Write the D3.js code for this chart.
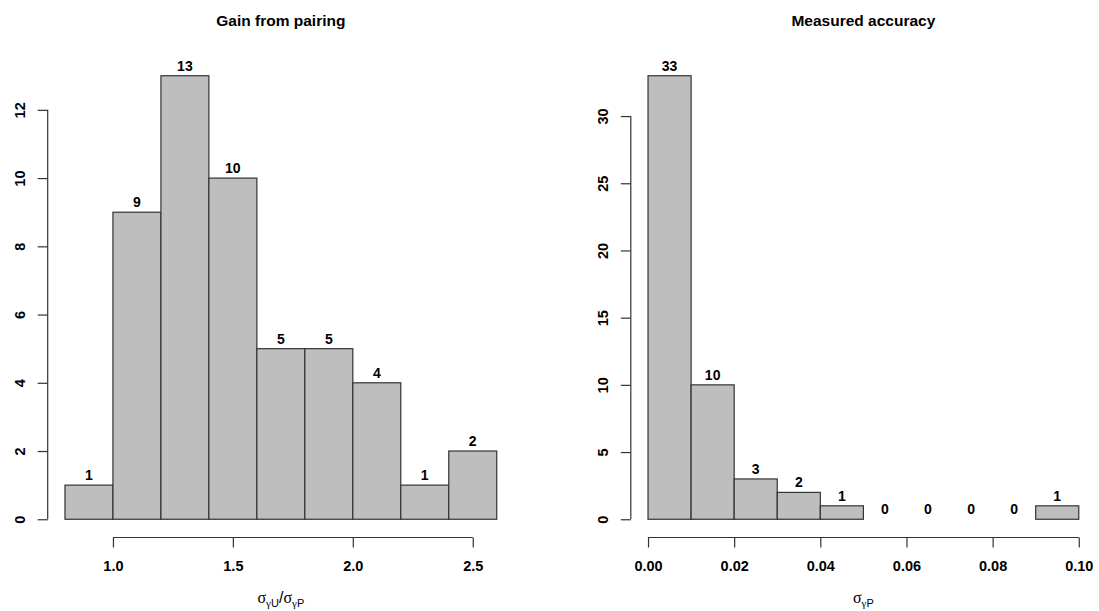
<!DOCTYPE html>
<html>
<head>
<meta charset="utf-8">
<script src="https://cdn.jsdelivr.net/npm/d3@7"></script>
<style>
  body { margin: 0; background: #fff; }
  svg { font-family: "Liberation Sans", Arial, sans-serif; }
</style>
</head>
<body>
<svg width="1099" height="611"></svg>
<script>
// left histogram: gain from pairing
let breaksL = [0.8, 1.0, 1.2, 1.4, 1.6, 1.8, 2.0, 2.2, 2.4, 2.6];
let countsL = [1, 9, 13, 10, 5, 5, 4, 1, 2];
let xTicksL = [1.0, 1.5, 2.0, 2.5];
let yTicksL = [0, 2, 4, 6, 8, 10, 12];

// right histogram: measured accuracy
let breaksR = [0, 0.01, 0.02, 0.03, 0.04, 0.05, 0.06, 0.07, 0.08, 0.09, 0.10];
let countsR = [33, 10, 3, 2, 1, 0, 0, 0, 0, 1];
let xTicksR = [0, 0.02, 0.04, 0.06, 0.08, 0.10];
let yTicksR = [0, 5, 10, 15, 20, 25, 30];

let svg = d3.select("svg");
let plotTop = 58, plotBottom = 537;
let ink = "#333";
let serif = "Liberation Serif, Times New Roman, serif";

let drawHist = (opt) => {
  let breaks = opt.breaks, counts = opt.counts;
  let xr = breaks[breaks.length - 1] - breaks[0];
  let ymax = d3.max(counts);
  // R style 4% padding
  let xScale = d3.scaleLinear()
    .domain([breaks[0] - 0.04 * xr, breaks[breaks.length - 1] + 0.04 * xr])
    .range([opt.left, opt.right]);
  let yScale = d3.scaleLinear()
    .domain([-0.04 * ymax, ymax * 1.04])
    .range([plotBottom, plotTop]);

  let g = svg.append("g");

  let bins = counts.map((c, i) => ({ x0: breaks[i], x1: breaks[i + 1], n: c }));

  g.selectAll("rect")
    .data(bins)
    .enter()
    .append("rect")
    .attr("x", (d) => xScale(d.x0))
    .attr("y", (d) => yScale(d.n))
    .attr("width", (d) => xScale(d.x1) - xScale(d.x0))
    .attr("height", (d) => yScale(0) - yScale(d.n))
    .attr("fill", "#bebebe")
    .attr("stroke", ink)
    .attr("stroke-width", 1.2);

  g.selectAll(".lab")
    .data(bins)
    .enter()
    .append("text")
    .attr("class", "lab")
    .attr("x", (d) => (xScale(d.x0) + xScale(d.x1)) / 2)
    .attr("y", (d) => yScale(d.n) - 5)
    .attr("text-anchor", "middle")
    .attr("font-weight", "bold")
    .attr("font-size", 14)
    .text((d) => d.n);

  // x axis
  let xAxis = d3.axisBottom(xScale)
    .tickValues(opt.xTicks)
    .tickFormat(opt.xFormat)
    .tickSizeOuter(0)
    .tickSize(10)
    .tickPadding(13);
  let gx = g.append("g")
    .attr("transform", "translate(0," + (plotBottom + 0.5) + ")")
    .call(xAxis);
  gx.select(".domain").remove();
  gx.append("line")
    .attr("x1", xScale(opt.xTicks[0]))
    .attr("x2", xScale(opt.xTicks[opt.xTicks.length - 1]))
    .attr("stroke", ink).attr("stroke-width", 1.2);
  gx.selectAll("line").attr("stroke", ink).attr("stroke-width", 1.2);
  gx.selectAll("text")
    .attr("fill", "#000")
    .attr("font-size", 14.5)
    .attr("font-weight", "bold")
    .attr("font-family", "Liberation Sans, Arial, sans-serif");

  // y axis
  let yAxis = d3.axisLeft(yScale)
    .tickValues(opt.yTicks)
    .tickSizeOuter(0)
    .tickSize(10)
    .tickPadding(0);
  let gy = g.append("g")
    .attr("transform", "translate(" + opt.left + ",0)")
    .call(yAxis);
  gy.select(".domain").remove();
  gy.append("line")
    .attr("y1", yScale(opt.yTicks[0]))
    .attr("y2", yScale(opt.yTicks[opt.yTicks.length - 1]))
    .attr("stroke", ink).attr("stroke-width", 1.2);
  gy.selectAll("line").attr("stroke", ink).attr("stroke-width", 1.2);
  gy.selectAll("text")
    .attr("fill", "#000")
    .attr("font-size", 14.5)
    .attr("font-weight", "bold")
    .attr("font-family", "Liberation Sans, Arial, sans-serif")
    .attr("x", null)
    .attr("dy", null)
    .attr("text-anchor", "middle")
    .attr("transform", "translate(-28,0) rotate(-90)")
    .attr("y", 5);

  // title
  let cx = (opt.left + opt.right) / 2;
  g.append("text")
    .attr("x", cx)
    .attr("y", 26)
    .attr("text-anchor", "middle")
    .attr("font-weight", "bold")
    .attr("font-size", 15.5)
    .text(opt.title);

  // axis title: greek in serif, subscript letters in sans
  let t = g.append("text")
    .attr("x", cx)
    .attr("y", 603)
    .attr("text-anchor", "middle")
    .attr("font-size", 16);
  opt.xlab.forEach((p) => {
    let s = t.append("tspan").text(p.t);
    if (p.serif) s.attr("font-family", serif);
    if (p.sub) s.attr("font-size", 11);
    if (p.dy) s.attr("dy", p.dy);
  });
};

drawHist({
  breaks: breaksL, counts: countsL, xTicks: xTicksL, yTicks: yTicksL,
  left: 47.7, right: 514,
  xFormat: d3.format(".1f"),
  title: "Gain from pairing",
  xlab: [
    { t: "σ", serif: true },
    { t: "γ", serif: true, sub: true, dy: 4 },
    { t: "U", sub: true },
    { t: "/", dy: -4 },
    { t: "σ", serif: true },
    { t: "γ", serif: true, sub: true, dy: 4 },
    { t: "P", sub: true }
  ]
});

drawHist({
  breaks: breaksR, counts: countsR, xTicks: xTicksR, yTicks: yTicksR,
  left: 630.8, right: 1096,
  xFormat: d3.format(".2f"),
  title: "Measured accuracy",
  xlab: [
    { t: "σ", serif: true },
    { t: "γ", serif: true, sub: true, dy: 4 },
    { t: "P", sub: true }
  ]
});
</script>
</body>
</html>
